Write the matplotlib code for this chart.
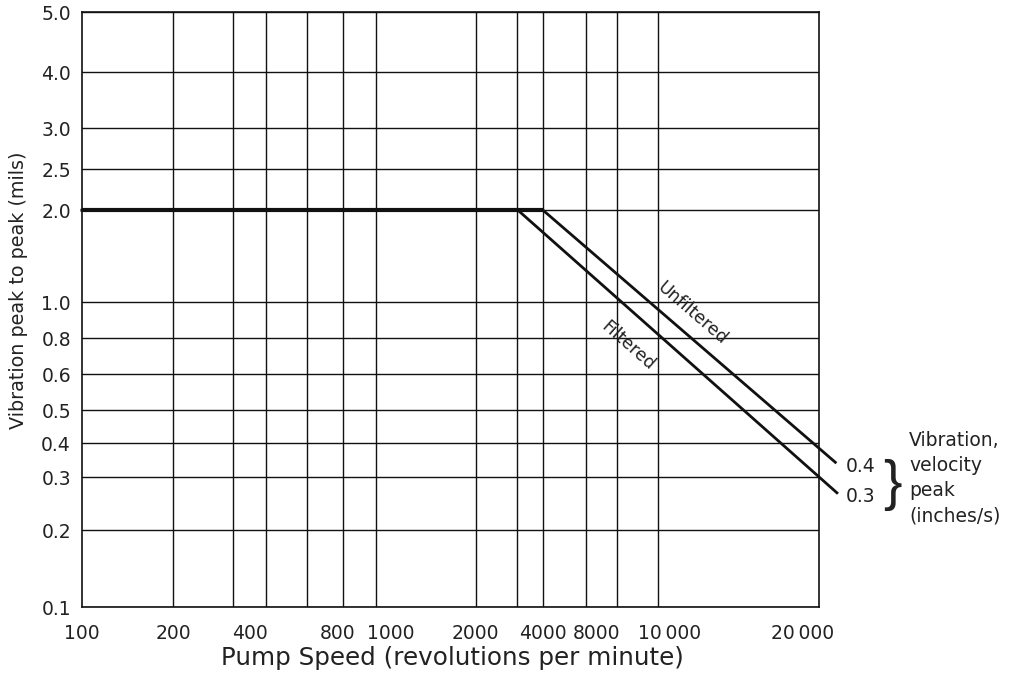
import numpy as np
import matplotlib
matplotlib.use("Agg")
import matplotlib.pyplot as plt

# tick values / labels
speed_ticks = [100, 200, 400, 800, 1000, 2000, 4000, 8000, 10000, 20000]
speed_labels = ["100", "200", "400", "800", "1000", "2000", "4000", "8000",
                "10\u2009000", "20\u2009000"]
vib_ticks = [0.1, 0.2, 0.3, 0.4, 0.5, 0.6, 0.8, 1.0, 2.0, 2.5, 3.0, 4.0, 5.0]
vib_labels = ["0.1", "0.2", "0.3", "0.4", "0.5", "0.6", "0.8", "1.0",
              "2.0", "2.5", "3.0", "4.0", "5.0"]

# limit curves (speed in rpm, vibration in mils peak to peak)
filtered_speed = [100, 3100, 24000]
filtered_vib = [2.0, 2.0, 0.266]
unfiltered_speed = [100, 4000, 23800]
unfiltered_vib = [2.0, 2.0, 0.34]
flat_speed = [100, 4000]
flat_vib = [2.0, 2.0]
velocity_levels = ["0.4", "0.3"]

# the printed chart has uneven (hand drawn) log axes: where each tick sits,
# as a fraction of the axes box
x_cal = [0.0, 0.1235, 0.228, 0.346, 0.419, 0.533, 0.6255, 0.6985, 0.7975, 0.977]
y_cal = [0.0, 0.1294, 0.2185, 0.2756, 0.3311, 0.3916, 0.4521, 0.5126,
         0.6672, 0.7361, 0.8050, 0.8992, 1.0]
# vertical grid lines of the original (axes fraction)
x_grid = [0.1235, 0.2049, 0.2497, 0.3053, 0.3542, 0.3989, 0.5346, 0.5902,
          0.6255, 0.6839, 0.7259, 0.7815]


def make_scale(ticks, fracs):
    lv = np.log10(np.asarray(ticks, float))
    fr = np.asarray(fracs, float)
    s0 = (fr[1] - fr[0]) / (lv[1] - lv[0])
    s1 = (fr[-1] - fr[-2]) / (lv[-1] - lv[-2])

    def fwd(v):
        l = np.log10(np.maximum(np.asarray(v, float), 1e-12))
        out = np.interp(l, lv, fr)
        out = np.where(l < lv[0], fr[0] + (l - lv[0]) * s0, out)
        return np.where(l > lv[-1], fr[-1] + (l - lv[-1]) * s1, out)

    def inv(f):
        f = np.asarray(f, float)
        l = np.interp(f, fr, lv)
        l = np.where(f < fr[0], lv[0] + (f - fr[0]) / s0, l)
        l = np.where(f > fr[-1], lv[-1] + (f - fr[-1]) / s1, l)
        return 10 ** l

    return fwd, inv


plt.rcParams["font.family"] = ["DejaVu Sans"]
ink = "#111111"
txt = "#222222"

fig = plt.figure(figsize=(10.18, 6.78), dpi=100)
ax = fig.add_axes([0.0806, 0.1047, 0.7240, 0.8771])

xf, xi = make_scale(speed_ticks, x_cal)
yf, yi = make_scale(vib_ticks, y_cal)
ax.set_xscale("function", functions=(xf, xi))
ax.set_yscale("function", functions=(yf, yi))
ax.set_xlim(float(xi(0.0)), float(xi(1.0)))
ax.set_ylim(float(yi(0.0)), float(yi(1.0)))

ax.set_xticks(speed_ticks, speed_labels)
ax.set_xticks(xi(x_grid), minor=True)
ax.xaxis.remove_overlapping_locs = False
ax.set_yticks(vib_ticks, vib_labels)
ax.yaxis.set_minor_locator(matplotlib.ticker.NullLocator())
ax.tick_params(which="both", length=0, labelsize=13.5, colors=txt)
ax.tick_params(axis="x", pad=12)
ax.tick_params(axis="y", pad=8)
ax.grid(axis="x", which="minor", color=ink, lw=1.0)
ax.grid(axis="y", which="major", color=ink, lw=1.0)
for s in ax.spines.values():
    s.set_color(ink)
    s.set_linewidth(1.2)

ax.plot(flat_speed, flat_vib, color=ink, lw=3.0, solid_capstyle="butt", zorder=4)
ax.plot(filtered_speed, filtered_vib, color=ink, lw=2.0, clip_on=False, zorder=4)
ax.plot(unfiltered_speed, unfiltered_vib, color=ink, lw=2.0, clip_on=False, zorder=4)

ax.text(0.828, 0.494, "Unfiltered", transform=ax.transAxes, rotation=-40.8,
        ha="center", va="center", fontsize=12.5, color=txt)
ax.text(0.741, 0.440, "Filtered", transform=ax.transAxes, rotation=-41.5,
        ha="center", va="center", fontsize=12.5, color=txt)

ax.set_xlabel("Pump Speed (revolutions per minute)", fontsize=17.7, color=txt)
ax.xaxis.set_label_coords(0.502, -0.066)
ax.set_ylabel("Vibration peak to peak (mils)", fontsize=13.8, color=txt)
ax.yaxis.set_label_coords(-0.073, 0.533)

# velocity annotation at right
fig.text(0.845, 1 - 467 / 678, velocity_levels[0], ha="center", va="center",
         fontsize=13.5, color=txt)
fig.text(0.845, 1 - 496 / 678, velocity_levels[1], ha="center", va="center",
         fontsize=13.5, color=txt)
fig.text(892 / 1018, 1 - 485 / 678, "}", ha="center", va="center", fontsize=40,
         family=["Liberation Sans", "DejaVu Sans"], color=txt)
fig.text(909 / 1018, 1 - 478 / 678, "Vibration,\nvelocity\npeak\n(inches/s)",
         ha="left", va="center", fontsize=13.5, linespacing=1.4, color=txt)

fig.savefig("out.png", dpi=100)
